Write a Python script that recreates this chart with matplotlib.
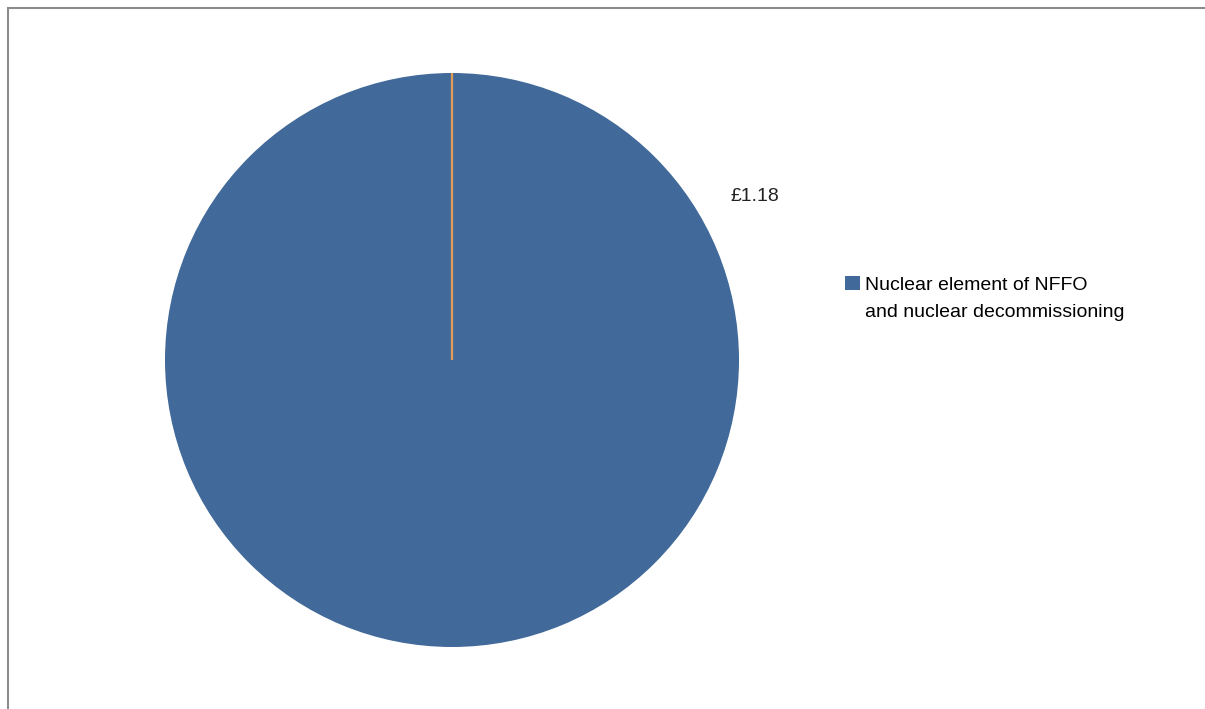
import matplotlib.pyplot as plt
from matplotlib.patches import Rectangle
import numpy as np

labels = ['Nuclear element of NFFO and nuclear decommissioning', '']
legend_lines = ['Nuclear element of NFFO', 'and nuclear decommissioning']
values = [1.18, 0.0]
value_labels = ['£1.18']
colors = ['#41699A', '#E39A55']

plt.rcParams['font.family'] = ['Liberation Sans', 'DejaVu Sans']

fig = plt.figure(figsize=(12.05, 7.09), dpi=100)

# chart border (grey, only top and left visible)
fig.patches.append(Rectangle((8 / 1205, -0.1), 1.2, (709 - 8) / 709 + 0.1,
                             transform=fig.transFigure, fill=False,
                             edgecolor='#8c8c8c', linewidth=1.5))

cx, cy, r = 452, 709 - 360, 287
ax = fig.add_axes([(cx - r) / 1205, (cy - r) / 709, 2 * r / 1205, 2 * r / 709])

wedges, _ = ax.pie(values, colors=colors, startangle=90, counterclock=False,
                   radius=1, wedgeprops=dict(linewidth=0))
# zero-size slice shows as a thin orange line
wedges[1].set_edgecolor(colors[1])
wedges[1].set_linewidth(1.6)
ax.set_xlim(-1, 1)
ax.set_ylim(-1, 1)
ax.set_aspect('equal')
ax.axis('off')

ang = np.deg2rad(28.3)
ax.text(1.2 * np.cos(ang), 1.2 * np.sin(ang), value_labels[0],
        ha='center', va='center', fontsize=14, color='#222222')

# legend: marker beside first line, second line wraps under text
handles = [Rectangle((0, 0), 1, 1, facecolor=colors[0], edgecolor='none'),
           Rectangle((0, 0), 1, 1, facecolor='none', edgecolor='none')]
fig.legend(handles, legend_lines, loc='upper left', bbox_to_anchor=(845 / 1205, 1 - 276 / 709),
           frameon=False, fontsize=14, handlelength=0.75, handleheight=0.75,
           handletextpad=0.3, borderaxespad=0, borderpad=0, labelspacing=0.45)

plt.savefig('out.png', dpi=100)
